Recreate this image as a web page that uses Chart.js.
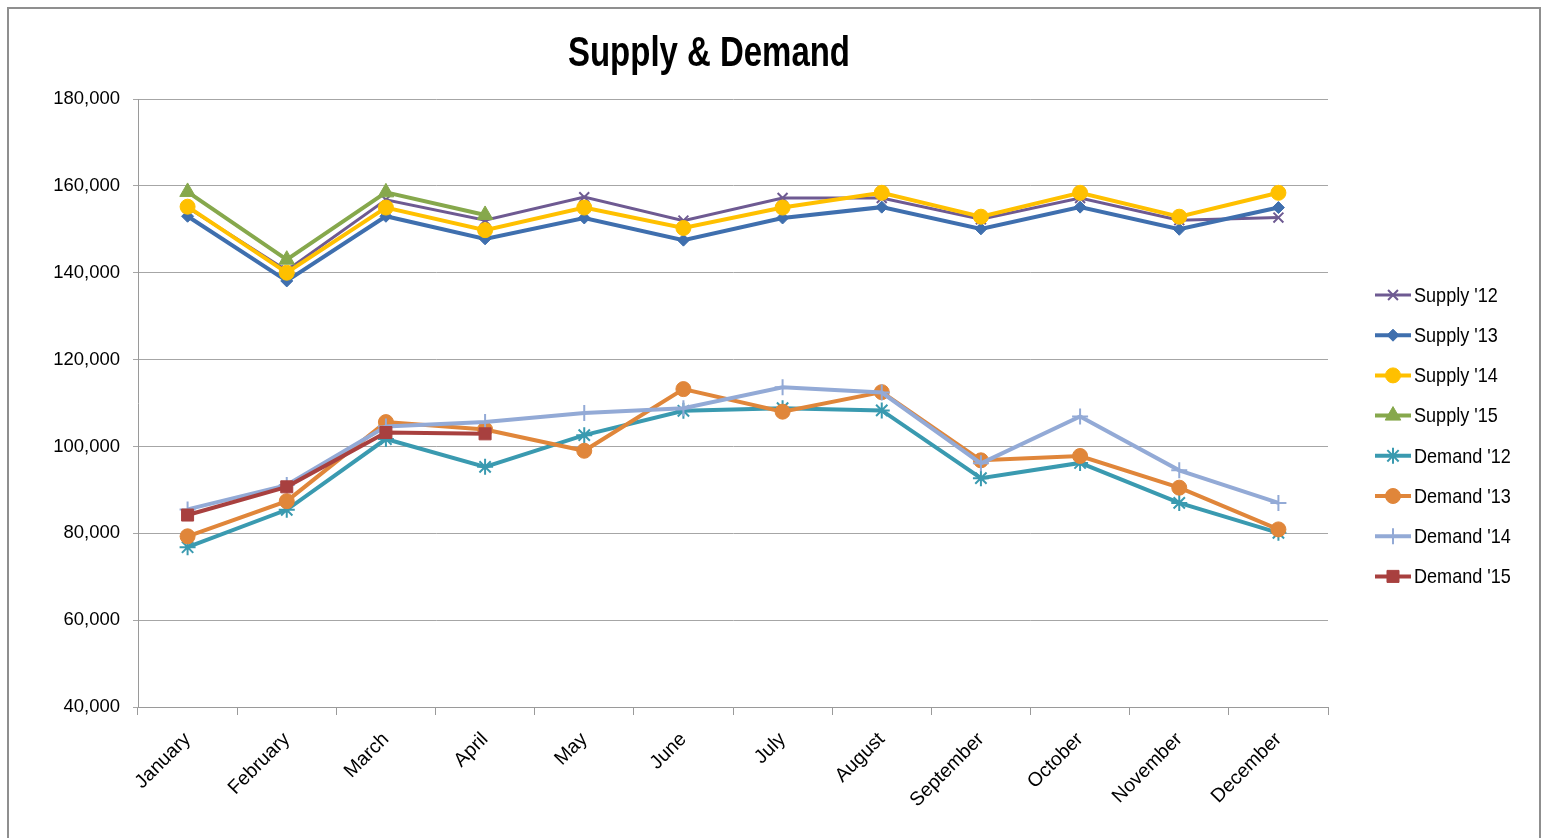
<!DOCTYPE html>
<html>
<head>
<meta charset="utf-8">
<script src="https://cdn.jsdelivr.net/npm/chart.js@4.4.1/dist/chart.umd.min.js"></script>
<style>
  html, body { margin: 0; padding: 0; background: #fff; }
  #wrap { position: relative; width: 1559px; height: 838px; }
</style>
</head>
<body>
<div id="wrap"><canvas id="supply-demand" width="1559" height="838"></canvas></div>
<script>
const months = ['January', 'February', 'March', 'April', 'May', 'June', 'July', 'August', 'September', 'October', 'November', 'December'];

const supply12 = [155000, 140500, 156800, 152100, 157400, 152000, 157200, 157200, 152300, 157200, 152100, 152700];
const supply13 = [153000, 138100, 153000, 147800, 152600, 147500, 152600, 155100, 150100, 155100, 150000, 155000];
const supply14 = [155200, 140000, 155000, 149800, 155000, 150300, 155000, 158400, 152900, 158400, 152900, 158400];
const supply15 = [158600, 143000, 158500, 153300];
const demand12 = [76800, 85400, 101700, 95300, 102600, 108200, 108800, 108300, 92700, 96200, 87000, 80100];
const demand13 = [79300, 87400, 105600, 103900, 99000, 113200, 108000, 112500, 96800, 97800, 90500, 80900];
const demand14 = [85500, 91100, 104600, 105600, 107700, 108800, 113600, 112400, 96100, 106900, 94500, 87000];
const demand15 = [84200, 90700, 103200, 102900];

const yTicks = { min: 40000, max: 180000, step: 20000 };

const FONT = "'Liberation Sans', Arial, sans-serif";

const series = [
  { label: "Supply '12", data: supply12, color: '#6E5A92', marker: 'crossRot', radius: 7, width: 3 },
  { label: "Supply '13", data: supply13, color: '#3F6FAE', marker: 'rectRot', radius: 6, width: 4 },
  { label: "Supply '14", data: supply14, color: '#FFC000', marker: 'circle', radius: 7.5, width: 4 },
  { label: "Supply '15", data: supply15, color: '#86A84C', marker: 'triangle', radius: 9, width: 4 },
  { label: "Demand '12", data: demand12, color: '#3A9AB0', marker: 'star', radius: 8, width: 4 },
  { label: "Demand '13", data: demand13, color: '#E0863A', marker: 'circle', radius: 7.5, width: 4 },
  { label: "Demand '14", data: demand14, color: '#93AAD6', marker: 'cross', radius: 8, width: 4 },
  { label: "Demand '15", data: demand15, color: '#A8403F', marker: 'rect', radius: 8.5, width: 4 },
];

const isStroked = (m) => m === 'star' || m === 'cross' || m === 'crossRot';

const datasets = series.map((s, i) => ({
  label: s.label,
  data: s.data,
  borderColor: s.color,
  backgroundColor: s.color,
  borderWidth: s.width,
  pointStyle: s.marker,
  pointRadius: s.radius,
  pointBorderWidth: isStroked(s.marker) ? 2 : 1,
  pointBackgroundColor: s.color,
  pointBorderColor: s.color,
  tension: 0,
  order: series.length - i,
}));

// squeeze text sideways a little, the original uses a narrow face
function narrowText(ctx, text, x, y, sx) {
  ctx.save();
  ctx.translate(x, y);
  ctx.scale(sx, 1);
  ctx.fillText(text, 0, 0);
  ctx.restore();
}

// frame, title and legend drawn by hand to look like the spreadsheet chart
const decorations = {
  id: 'decorations',
  beforeDraw(chart) {
    const ctx = chart.ctx;
    ctx.save();
    ctx.fillStyle = '#fff';
    ctx.fillRect(0, 0, chart.width, chart.height);
    ctx.strokeStyle = '#8f8f8f';
    ctx.lineWidth = 2;
    ctx.strokeRect(8, 8, 1532, 900);
    ctx.restore();
  },
  afterDraw(chart) {
    const ctx = chart.ctx;
    ctx.save();
    ctx.fillStyle = '#000';
    ctx.font = 'bold 42px ' + FONT;
    ctx.textAlign = 'center';
    ctx.textBaseline = 'alphabetic';
    const w = ctx.measureText('Supply & Demand').width;
    narrowText(ctx, 'Supply & Demand', 709, 66, 282 / w);

    ctx.font = '21px ' + FONT;
    ctx.textAlign = 'left';
    ctx.textBaseline = 'middle';
    series.forEach((s, i) => {
      const y = 295 + i * 40.2;
      ctx.strokeStyle = s.color;
      ctx.lineWidth = s.width;
      ctx.beginPath();
      ctx.moveTo(1375, y);
      ctx.lineTo(1411, y);
      ctx.stroke();
      ctx.fillStyle = s.color;
      const bw = isStroked(s.marker) ? 2 : 1;
      ctx.lineWidth = bw;
      Chart.helpers.drawPoint(ctx, { pointStyle: s.marker, radius: s.radius, rotation: 0, borderWidth: bw }, 1393, y);
      ctx.fillStyle = '#000';
      narrowText(ctx, s.label, 1414, y + 1, 0.86);
    });
    ctx.restore();
  }
};

const ctx = document.getElementById('supply-demand').getContext('2d');
new Chart(ctx, {
  type: 'line',
  data: { labels: months, datasets },
  plugins: [decorations],
  options: {
    responsive: false,
    animation: false,
    devicePixelRatio: 1,
    layout: { padding: { left: 8, right: 231, top: 99, bottom: 8 } },
    plugins: {
      legend: { display: false },
      title: { display: false },
      tooltip: { enabled: false },
    },
    scales: {
      x: {
        offset: true,
        grid: { offset: true, drawOnChartArea: false, color: '#9a9a9a', tickLength: 8 },
        border: { color: '#9a9a9a' },
        ticks: {
          minRotation: 45,
          maxRotation: 45,
          color: '#000',
          padding: 13,
          font: { family: FONT, size: 19.5 },
        },
        afterFit(scale) { scale.height = 838 - 8 - 707; },
      },
      y: {
        min: yTicks.min,
        max: yTicks.max,
        grid: { color: '#a6a6a6', tickLength: 5 },
        border: { color: '#9a9a9a' },
        ticks: {
          stepSize: yTicks.step,
          color: '#000',
          padding: 13,
          font: { family: FONT, size: 18.5 },
          callback: (v) => v.toLocaleString('en-US'),
        },
        afterFit(scale) { scale.width = 138 - 8; },
      },
    },
  },
});
</script>
</body>
</html>
